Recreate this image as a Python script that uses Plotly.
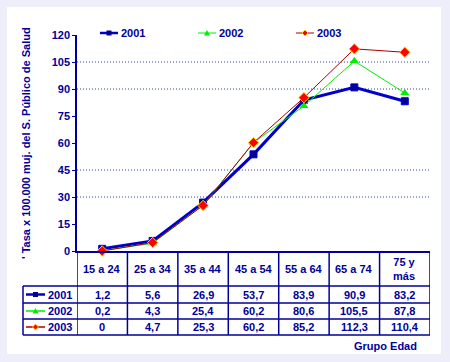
import plotly.graph_objects as go

categories = ["15 a 24", "25 a 34", "35 a 44", "45 a 54", "55 a 64", "65 a 74", "75 y<br>más"]
years = ["2001", "2002", "2003"]
v2001 = [1.2, 5.6, 26.9, 53.7, 83.9, 90.9, 83.2]
v2002 = [0.2, 4.3, 25.4, 60.2, 80.6, 105.5, 87.8]
v2003 = [0, 4.7, 25.3, 60.2, 85.2, 112.3, 110.4]
y_ticks = [0, 15, 30, 45, 60, 75, 90, 105, 120]
grid_values = [30, 45, 90, 105]
y_title = "' Tasa x 100.000 muj. del S. Público de Salud"
x_title = "Grupo Edad"

W, H = 450, 362
X0, X1 = 77, 430
Y0, Y1 = 251, 35
NAVY = "#000099"
FONT = "Liberation Sans, Arial, sans-serif"

def px(x):
    return (x - X0) / (X1 - X0)

def py(y):
    return (Y0 - y) / (Y0 - Y1)

def fmt(v):
    return f"{v:g}".replace(".", ",")

series = [
    dict(name="2001", vals=v2001, color="#0000CC", width=3, mcol="#000099",
         marker=dict(symbol="square", size=7, color="#000099", line=dict(color="#0000CC", width=1))),
    dict(name="2002", vals=v2002, color="#00EE00", width=1, mcol="#00EE00",
         marker=dict(symbol="triangle-up", size=8, color="#00EE00", line=dict(width=0))),
    dict(name="2003", vals=v2003, color="#AA0000", width=1, mcol="#FF0000",
         marker=dict(symbol="diamond", size=8, color="#FF0000", line=dict(color="#FFCC00", width=1))),
]

fig = go.Figure()
xs = list(range(len(categories)))
for s in series:
    fig.add_trace(go.Scatter(
        x=xs, y=s["vals"], name=s["name"], mode="lines+markers",
        line=dict(color=s["color"], width=s["width"]),
        marker=s["marker"], cliponaxis=False, showlegend=False,
    ))

shapes = []
annotations = []

# white panel
shapes.append(dict(type="rect", xref="paper", yref="paper",
                   x0=px(7), x1=px(441), y0=py(354), y1=py(7),
                   fillcolor="white", line=dict(width=0), layer="below"))

# dotted gridlines
for g in grid_values:
    shapes.append(dict(type="line", xref="paper", yref="y", x0=0, x1=1, y0=g, y1=g,
                       line=dict(color="#3344AA", width=1, dash="1px,2px"), layer="below"))


def sample(name, color, lw, mcol, x_left, x_right, yc):
    shapes.append(dict(type="line", xref="paper", yref="paper", x0=px(x_left), x1=px(x_right),
                       y0=py(yc), y1=py(yc), line=dict(color=color, width=lw)))
    cx, cy = (x_left + x_right) / 2, yc
    if name == "2001":
        d = 2.5
        shapes.append(dict(type="rect", xref="paper", yref="paper", x0=px(cx - d), x1=px(cx + d),
                           y0=py(cy + d), y1=py(cy - d), fillcolor=mcol, line=dict(width=0)))
    elif name == "2002":
        path = f"M {px(cx-3)} {py(cy+2.5)} L {px(cx+3)} {py(cy+2.5)} L {px(cx)} {py(cy-3)} Z"
        shapes.append(dict(type="path", xref="paper", yref="paper", path=path,
                           fillcolor=mcol, line=dict(width=0)))
    else:
        path = (f"M {px(cx)} {py(cy-3)} L {px(cx+3)} {py(cy)} L {px(cx)} {py(cy+3)} "
                f"L {px(cx-3)} {py(cy)} Z")
        shapes.append(dict(type="path", xref="paper", yref="paper", path=path,
                           fillcolor=mcol, line=dict(color="#FFCC00", width=1)))


# top legend
leg_x = [100, 198, 296]
for s, lx in zip(series, leg_x):
    sample(s["name"], s["color"], min(s["width"], 2.5), s["mcol"], lx, lx + 18, 33)
    annotations.append(dict(x=px(lx + 19), y=py(33), xref="paper", yref="paper",
                            text=f"<b>{s['name']}</b>", showarrow=False,
                            font=dict(family=FONT, size=11, color=NAVY),
                            xanchor="left", yanchor="middle"))

# table geometry
row_tops = [286, 303, 319, 335]
tl = dict(color=NAVY, width=1.5)
for k in range(len(categories) + 1):
    shapes.append(dict(type="line", xref="x", yref="paper", x0=k - 0.5, x1=k - 0.5,
                       y0=py(251), y1=py(335), line=tl))
shapes.append(dict(type="line", xref="paper", yref="paper", x0=px(23), x1=px(23),
                   y0=py(286), y1=py(335), line=tl))
for yy in row_tops:
    shapes.append(dict(type="line", xref="paper", yref="paper", x0=px(23), x1=1,
                       y0=py(yy), y1=py(yy), line=tl))

# header labels
for i, c in enumerate(categories):
    annotations.append(dict(x=i, y=py(269), xref="x", yref="paper", text=f"<b>{c}</b>",
                            showarrow=False, font=dict(family=FONT, size=11, color=NAVY),
                            align="center", xanchor="center", yanchor="middle"))

# rows
for r, s in enumerate(series):
    yc = (row_tops[r] + row_tops[r + 1]) / 2
    for i, v in enumerate(s["vals"]):
        annotations.append(dict(x=i, y=py(yc), xref="x", yref="paper", text=f"<b>{fmt(v)}</b>",
                                showarrow=False, font=dict(family=FONT, size=11, color=NAVY),
                                xanchor="center", yanchor="middle"))
    annotations.append(dict(x=px(46), y=py(yc), xref="paper", yref="paper", text=f"<b>{s['name']}</b>",
                            showarrow=False, font=dict(family=FONT, size=11, color=NAVY),
                            xanchor="left", yanchor="middle"))
    sample(s["name"], s["color"], min(s["width"] + 0.5, 2.5), s["mcol"], 26, 45, yc)

# x title
annotations.append(dict(x=px(419), y=py(346), xref="paper", yref="paper", text=f"<b>{x_title}</b>",
                        showarrow=False, font=dict(family=FONT, size=11, color=NAVY),
                        xanchor="right", yanchor="middle"))
# y title
annotations.append(dict(x=px(26), y=py(143), xref="paper", yref="paper", text=f"<b>{y_title}</b>",
                        showarrow=False, textangle=-90, font=dict(family=FONT, size=11, color=NAVY),
                        xanchor="center", yanchor="middle"))

fig.update_layout(
    width=W, height=H,
    margin=dict(l=X0, r=W - X1, t=Y1, b=H - Y0, pad=0, autoexpand=False),
    paper_bgcolor="#EEEEFA", plot_bgcolor="white",
    font=dict(family=FONT, size=10, color=NAVY),
    showlegend=False,
    xaxis=dict(range=[-0.5, 6.5], showticklabels=False, showgrid=False, zeroline=False,
               showline=True, linecolor=NAVY, linewidth=1.5, ticks="", automargin=False),
    yaxis=dict(range=[0, 120], tickvals=y_ticks, showgrid=False, zeroline=False,
               showline=True, linecolor=NAVY, linewidth=1.5, ticks="outside", ticklen=3,
               tickcolor=NAVY, automargin=False,
               tickfont=dict(family=FONT, size=11, color=NAVY, weight="bold")),
    shapes=shapes, annotations=annotations,
)

fig.write_html("out.html", config={"displayModeBar": False},
               post_script="document.body.style.margin='0';document.body.style.background='#EEEEFA';")
